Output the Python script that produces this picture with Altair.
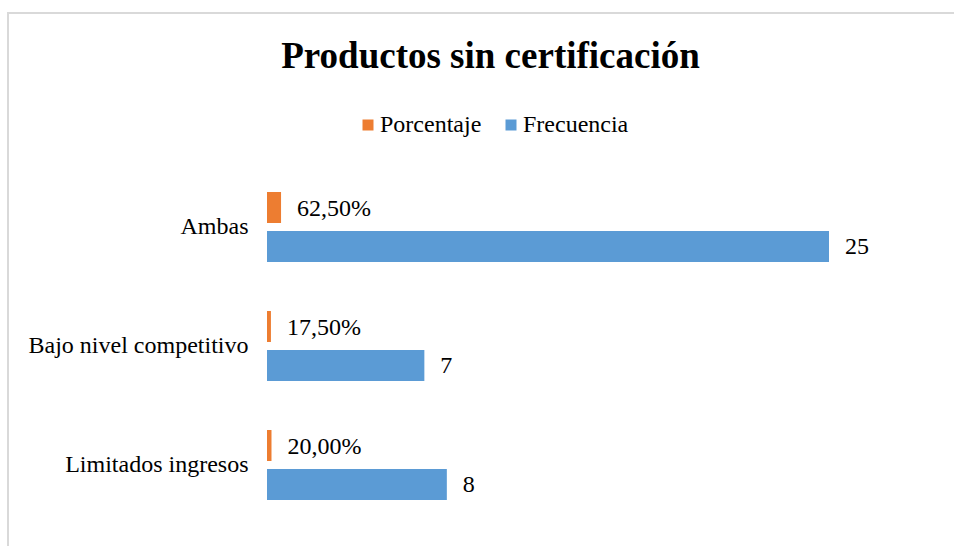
import altair as alt
import pandas as pd

categorias = ["Ambas", "Bajo nivel competitivo", "Limitados ingresos"]
frecuencia = [25, 7, 8]
porcentaje = [0.625, 0.175, 0.20]
series = ["Porcentaje", "Frecuencia"]
colores = ["#ED7D31", "#5B9BD5"]
titulo = "Productos sin certificación"

rows = []
for c, f, p in zip(categorias, frecuencia, porcentaje):
    rows.append({"categoria": c, "serie": "Porcentaje", "valor": p,
                 "etiqueta": f"{p * 100:.2f}".replace(".", ",") + "%"})
    rows.append({"categoria": c, "serie": "Frecuencia", "valor": f,
                 "etiqueta": str(f)})
df = pd.DataFrame(rows)

FONT = "Liberation Serif"
W, H = 562, 357
PAD_L, PAD_T = 267, 167.5

base = alt.Chart(df).encode(
    y=alt.Y("categoria:N", sort=categorias,
            scale=alt.Scale(paddingInner=0.412, paddingOuter=0.206),
            axis=alt.Axis(title=None, domain=False, ticks=False, tickSize=0,
                          grid=False, labelFont=FONT, labelFontSize=24,
                          labelColor="#000000", labelPadding=19, labelLimit=400)),
    yOffset=alt.YOffset("serie:N", sort=series,
                        scale=alt.Scale(paddingInner=0.205, paddingOuter=0)),
)

bars = base.mark_bar().encode(
    x=alt.X("valor:Q", scale=alt.Scale(domain=[0, 25], nice=False, zero=True),
            axis=None),
    color=alt.Color("serie:N", sort=series,
                    scale=alt.Scale(domain=series, range=colores),
                    legend=alt.Legend(title=None, orient="none", direction="horizontal",
                                      legendX=89, legendY=-54.5,
                                      symbolType="square", symbolSize=121,
                                      symbolStrokeWidth=0,
                                      labelFont=FONT, labelFontSize=24,
                                      labelColor="#000000", labelOffset=0,
                                      columnPadding=17, padding=0)),
)

labels = base.mark_text(align="left", baseline="middle", dx=16, dy=1,
                        font=FONT, fontSize=24, color="#000000").encode(
    x=alt.X("valor:Q"),
    text="etiqueta:N",
)

frame_df = pd.DataFrame({"k": [0], "titulo": [titulo]})
left_line = alt.Chart(frame_df).mark_rule(color="#D9D9D9", strokeWidth=2).encode(
    x=alt.value(8 - PAD_L), y=alt.value(13 - PAD_T), y2=alt.value(560 - PAD_T))
top_line = alt.Chart(frame_df).mark_rule(color="#D9D9D9", strokeWidth=2).encode(
    x=alt.value(7 - PAD_L), x2=alt.value(970 - PAD_L), y=alt.value(13 - PAD_T))
title_text = alt.Chart(frame_df).mark_text(
    font=FONT, fontSize=37, fontWeight="bold", color="#000000",
    align="center", baseline="alphabetic").encode(
    x=alt.value(490.5 - PAD_L), y=alt.value(68.3 - PAD_T), text="titulo:N")

chart = alt.layer(left_line, top_line, title_text, bars, labels).properties(
    width=W, height=H,
    autosize=alt.AutoSizeParams(type="none"),
    padding={"left": PAD_L, "top": PAD_T, "right": 954 - PAD_L - W,
             "bottom": 546 - PAD_T - H},
    background="#FFFFFF",
).configure_view(stroke=None)

chart.save("out.html", embed_options={"renderer": "svg", "actions": False})
